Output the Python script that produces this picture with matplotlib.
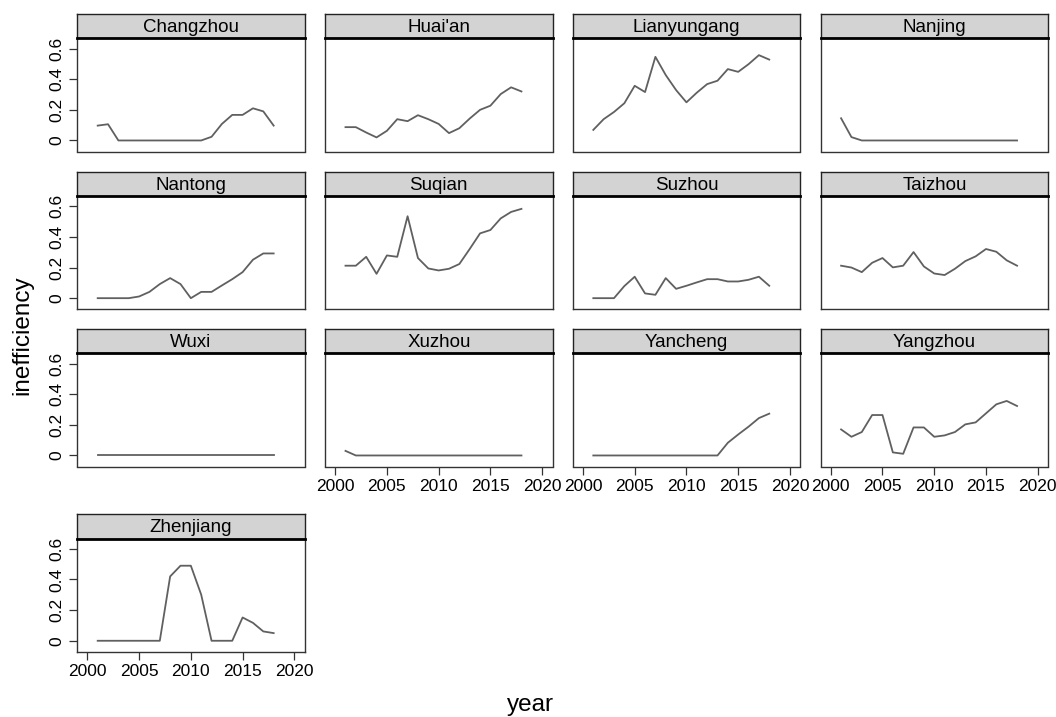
import numpy as np
import matplotlib
matplotlib.use('Agg')
import matplotlib.pyplot as plt

plt.rcParams['font.family'] = ['Liberation Sans', 'DejaVu Sans']

years = np.arange(2001, 2019)
cities = ['Changzhou', "Huai'an", 'Lianyungang', 'Nanjing',
          'Nantong', 'Suqian', 'Suzhou', 'Taizhou',
          'Wuxi', 'Xuzhou', 'Yancheng', 'Yangzhou',
          'Zhenjiang']

changzhou = [0.097, 0.106, 0, 0, 0, 0, 0, 0, 0, 0, 0, 0.024, 0.108, 0.167, 0.167, 0.21, 0.19, 0.097]
huaian = [0.087, 0.087, 0.052, 0.02, 0.063, 0.139, 0.126, 0.165, 0.139, 0.108, 0.048, 0.08, 0.143, 0.2, 0.227, 0.303, 0.347, 0.32]
lianyungang = [0.069, 0.139, 0.186, 0.243, 0.357, 0.316, 0.546, 0.427, 0.329, 0.249, 0.312, 0.368, 0.39, 0.466, 0.448, 0.498, 0.557, 0.528]
nanjing = [0.145, 0.022, 0, 0, 0, 0, 0, 0, 0, 0, 0, 0, 0, 0, 0, 0, 0, 0]
nantong = [0, 0, 0, 0, 0.011, 0.041, 0.092, 0.131, 0.092, 0, 0.041, 0.041, 0.083, 0.124, 0.17, 0.251, 0.292, 0.292]
suqian = [0.212, 0.212, 0.27, 0.159, 0.279, 0.27, 0.535, 0.262, 0.194, 0.181, 0.192, 0.223, 0.321, 0.423, 0.445, 0.521, 0.563, 0.583]
suzhou = [0, 0, 0, 0.079, 0.14, 0.031, 0.022, 0.131, 0.061, 0.081, 0.103, 0.124, 0.124, 0.109, 0.109, 0.12, 0.14, 0.081]
taizhou = [0.212, 0.2, 0.17, 0.231, 0.262, 0.201, 0.212, 0.301, 0.207, 0.161, 0.151, 0.192, 0.242, 0.273, 0.321, 0.303, 0.247, 0.212]
wuxi = [0] * 18
xuzhou = [0.03] + [0] * 17
yancheng = [0, 0, 0, 0, 0, 0, 0, 0, 0, 0, 0, 0, 0, 0.083, 0.137, 0.188, 0.244, 0.273]
yangzhou = [0.17, 0.122, 0.153, 0.264, 0.264, 0.02, 0.011, 0.183, 0.183, 0.122, 0.131, 0.153, 0.203, 0.216, 0.275, 0.334, 0.356, 0.323]
zhenjiang = [0, 0, 0, 0, 0, 0, 0, 0.42, 0.49, 0.49, 0.301, 0, 0, 0, 0.152, 0.117, 0.061, 0.05]

series = [changzhou, huaian, lianyungang, nanjing, nantong, suqian, suzhou,
          taizhou, wuxi, xuzhou, yancheng, yangzhou, zhenjiang]

xticks = [2000, 2005, 2010, 2015, 2020]
yticks = [0, 0.2, 0.4, 0.6]
yticklabels = ['0', '0.2', '0.4', '0.6']

W, H = 1056, 717


def box(x0, y0, w, h):
    return [x0 / W, 1 - (y0 + h) / H, w / W, h / H]


fig = plt.figure(figsize=(W / 100, H / 100), dpi=100)

strip_tops = [14, 171.7, 329, 514.3]
pw, ph, sh = 227.4, 113.2, 24.3

for i, (name, vals) in enumerate(zip(cities, series)):
    row, col = divmod(i, 4)
    left = 77.3 + col * 247.8
    top = strip_tops[row]

    sax = fig.add_axes(box(left, top, pw, sh))
    sax.set_facecolor('#d3d3d3')
    sax.set_xticks([])
    sax.set_yticks([])
    for s in sax.spines.values():
        s.set_color('#222222')
        s.set_linewidth(1)
    sax.text(0.5, 0.45, name, ha='center', va='center', fontsize=13.5,
             transform=sax.transAxes)

    ax = fig.add_axes(box(left, top + sh, pw, ph))
    ax.plot(years, vals, color='#606060', lw=1.3)
    ax.set_xlim(1999.03, 2021.0)
    ax.set_ylim(-0.072, 0.667)
    for s in ax.spines.values():
        s.set_color('#333333')
        s.set_linewidth(1)
    ax.spines['top'].set_color('black')
    ax.spines['top'].set_linewidth(2)
    ax.tick_params(direction='out', length=6, width=0.9, color='#333333',
                   labelsize=12.5, pad=3)

    below = i + 4 < len(cities)
    if below:
        ax.set_xticks([])
    else:
        ax.set_xticks(xticks)
    if col == 0:
        ax.set_yticks(yticks)
        ax.set_yticklabels(yticklabels, rotation=90, va='center')
    else:
        ax.set_yticks([])

fig.text(22 / W, 1 - 335 / H, 'inefficiency', rotation=90, ha='center',
         va='center', fontsize=17.5)
fig.text(530 / W, 1 - 705 / H, 'year', ha='center', va='center', fontsize=17.5)

fig.savefig('out.png', dpi=100, facecolor='white')
